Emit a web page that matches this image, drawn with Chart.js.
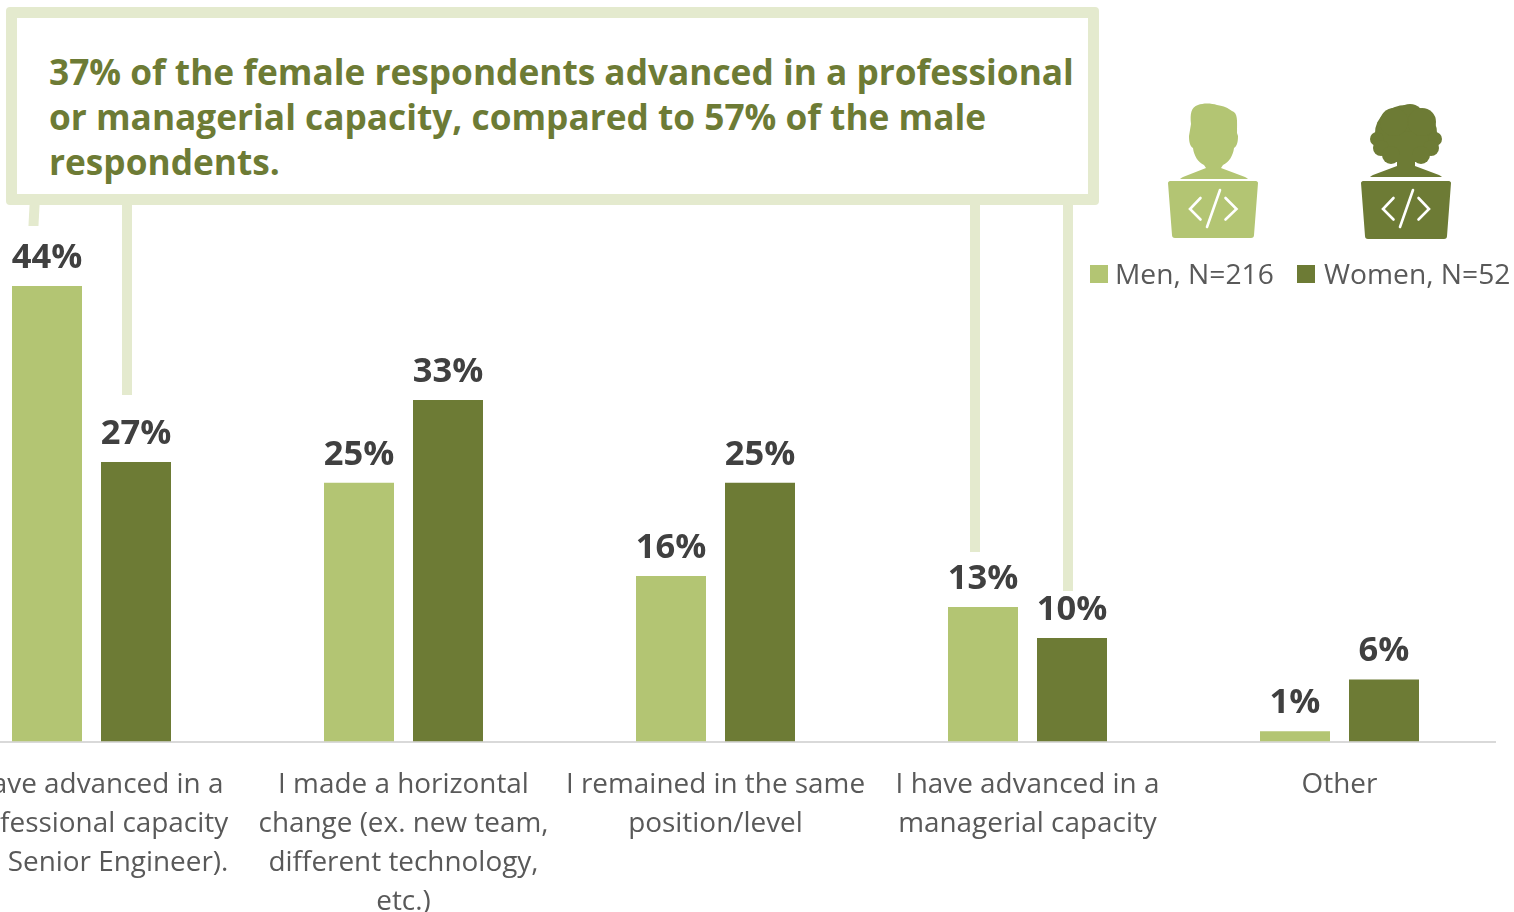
<!DOCTYPE html>
<html>
<head>
<meta charset="utf-8">
<title>Career change by gender</title>
<script src="https://cdn.jsdelivr.net/npm/chart.js@4"></script>
<style>
  html, body { margin: 0; padding: 0; background: #fff; overflow: hidden; }
  body { width: 1514px; height: 912px; position: relative; font-family: "Open Sans", sans-serif; }
  #chart-wrap { position: absolute; left: -70px; top: 0; width: 1584px; height: 912px; }
  #callout {
    position: absolute; left: 6px; top: 7px; width: 1093px; height: 198px; box-sizing: border-box;
    border: 11px solid #e4eace; border-radius: 4px; background: #fff;
    padding: 31px 0 0 32px; color: #6d7b35;
    font-size: 35.25px; font-weight: 700; line-height: 45px; white-space: nowrap;
  }
  .leader { position: absolute; background: #e4eace; width: 10px; top: 205px; }
  #legend { position: absolute; top: 255px; left: 1090px; height: 36px; color: #595959; font-size: 28.2px; line-height: 36px; white-space: nowrap; }
  #legend span { position: absolute; top: 0; }
  #legend i { position: absolute; top: 10px; width: 18px; height: 18px; }
  #icons { position: absolute; left: 0; top: 0; }
</style>
</head>
<body>
<div id="chart-wrap"><canvas id="careerChart" width="1584" height="912"></canvas></div>
<div class="leader" style="left:29px;height:21px;transform:skewX(-3deg)"></div>
<div class="leader" style="left:122px;height:190px"></div>
<div class="leader" style="left:970px;height:347px"></div>
<div class="leader" style="left:1063px;height:386px"></div>
<div id="callout">37% of the female respondents advanced in a professional<br>or managerial capacity, compared to 57% of the male<br>respondents.</div>

<svg id="icons" width="1514" height="256" viewBox="0 0 1514 256">
  <!-- man -->
  <g fill="#b3c573">
    <path d="M1191 124c-1-10 0-17 7-19 5-2 13-2 19 0 7 1 11 3 15 6 6 2 5 9 5 22l1 3c0 6-1 10-4 12-1 8-5 14-11 17l-2 3 24 9c2 1 3 2 3 2h-68s1-1 3-2l23-9-2-3c-6-3-10-9-11-17-3-2-4-6-4-12z"/>
    <path d="M1168 183c0-1 1-2 2-2h86c1 0 2 1 2 2l-4 52c0 2-1 3-3 3h-76c-2 0-3-1-3-3z"/>
  </g>
  <path d="M1200.5 198l-10.500 11 10.500 10.500M1225.500 198l11 11-11 10.500M1220 190l-13 37" fill="none" stroke="#fff" stroke-width="2.6" stroke-linecap="round"/>
  <!-- woman -->
  <g fill="#6d7b35">
    <ellipse cx="1406" cy="133" rx="31" ry="28"/>
    <circle cx="1410" cy="118" r="14"/><circle cx="1394" cy="122" r="14"/><circle cx="1422" cy="122" r="14"/>
    <circle cx="1377" cy="139" r="7"/><circle cx="1435" cy="139" r="7"/>
    <circle cx="1381" cy="148" r="8"/><circle cx="1431" cy="148" r="8"/>
    <circle cx="1391" cy="155" r="9"/><circle cx="1421" cy="155" r="9"/>
    <path d="M1397 155h18v11l24 9c2 1 3 2 3 2h-72s1-1 3-2l24-9z"/>
    <path d="M1361 183c0-1 1-2 2-2h86c1 0 2 1 2 2l-4 53c0 2-1 3-3 3h-76c-2 0-3-1-3-3z"/>
  </g>
  <path d="M1393.500 198l-10.500 11 10.500 10.500M1418.500 198l10.500 11-10.500 10.500M1413 190l-13 37" fill="none" stroke="#fff" stroke-width="2.6" stroke-linecap="round"/>
</svg>

<div id="legend"></div>

<script>
const categories = [
  ['I have advanced in a', 'professional capacity', '(ex. Senior Engineer).'],
  ['I made a horizontal', 'change (ex. new team,', 'different technology,', 'etc.)'],
  ['I remained in the same', 'position/level'],
  ['I have advanced in a', 'managerial capacity'],
  'Other'
];
const menValues = [44, 25, 16, 13, 1];
const womenValues = [27, 33, 25, 10, 6];
const menLabel = 'Men, N=216';
const womenLabel = 'Women, N=52';
const menColor = '#b3c573';
const womenColor = '#6d7b35';

// value labels above each bar
const barValueLabels = {
  id: 'barValueLabels',
  afterDatasetsDraw(chart) {
    const { ctx } = chart;
    ctx.save();
    ctx.font = '700 34.5px "Open Sans"';
    ctx.fillStyle = '#404040';
    ctx.textAlign = 'center';
    ctx.textBaseline = 'alphabetic';
    chart.data.datasets.forEach((ds, i) => {
      chart.getDatasetMeta(i).data.forEach((bar, j) => {
        ctx.fillText(ds.data[j] + '%', bar.x, bar.y - 18);
      });
    });
    ctx.restore();
  }
};

const ctx = document.getElementById('careerChart').getContext('2d');
const chart = new Chart(ctx, {
  type: 'bar',
  data: {
    labels: categories,
    datasets: [
      { label: menLabel, data: menValues, backgroundColor: menColor },
      { label: womenLabel, data: womenValues, backgroundColor: womenColor }
    ]
  },
  options: {
    responsive: false,
    animation: false,
    layout: { padding: { top: 275.75, left: 5.5, right: 18.5, bottom: 0 } },
    datasets: { bar: { barPercentage: 70 / 89, categoryPercentage: 178 / 312 } },
    plugins: { legend: { display: false }, tooltip: { enabled: false } },
    scales: {
      x: {
        grid: { display: false },
        border: { color: '#d9d9d9', width: 2 },
        afterFit(scale) { scale.height = 170.5; },
        ticks: {
          color: '#595959',
          font: { family: '"Open Sans"', size: 27.9, lineHeight: 39 / 27.9 },
          padding: 16,
          autoSkip: false,
          maxRotation: 0,
          minRotation: 0
        }
      },
      y: { display: false, min: 0, max: 45 }
    }
  },
  plugins: [barValueLabels]
});

// legend row built from the dataset names and colours
const legendEl = document.getElementById('legend');
const legendOffsets = [[0, 25], [207, 234]];
chart.data.datasets.forEach((ds, i) => {
  const swatch = document.createElement('i');
  swatch.style.left = legendOffsets[i][0] + 'px';
  swatch.style.background = ds.backgroundColor;
  const text = document.createElement('span');
  text.style.left = legendOffsets[i][1] + 'px';
  text.textContent = ds.label;
  legendEl.append(swatch, text);
});
</script>
</body>
</html>
